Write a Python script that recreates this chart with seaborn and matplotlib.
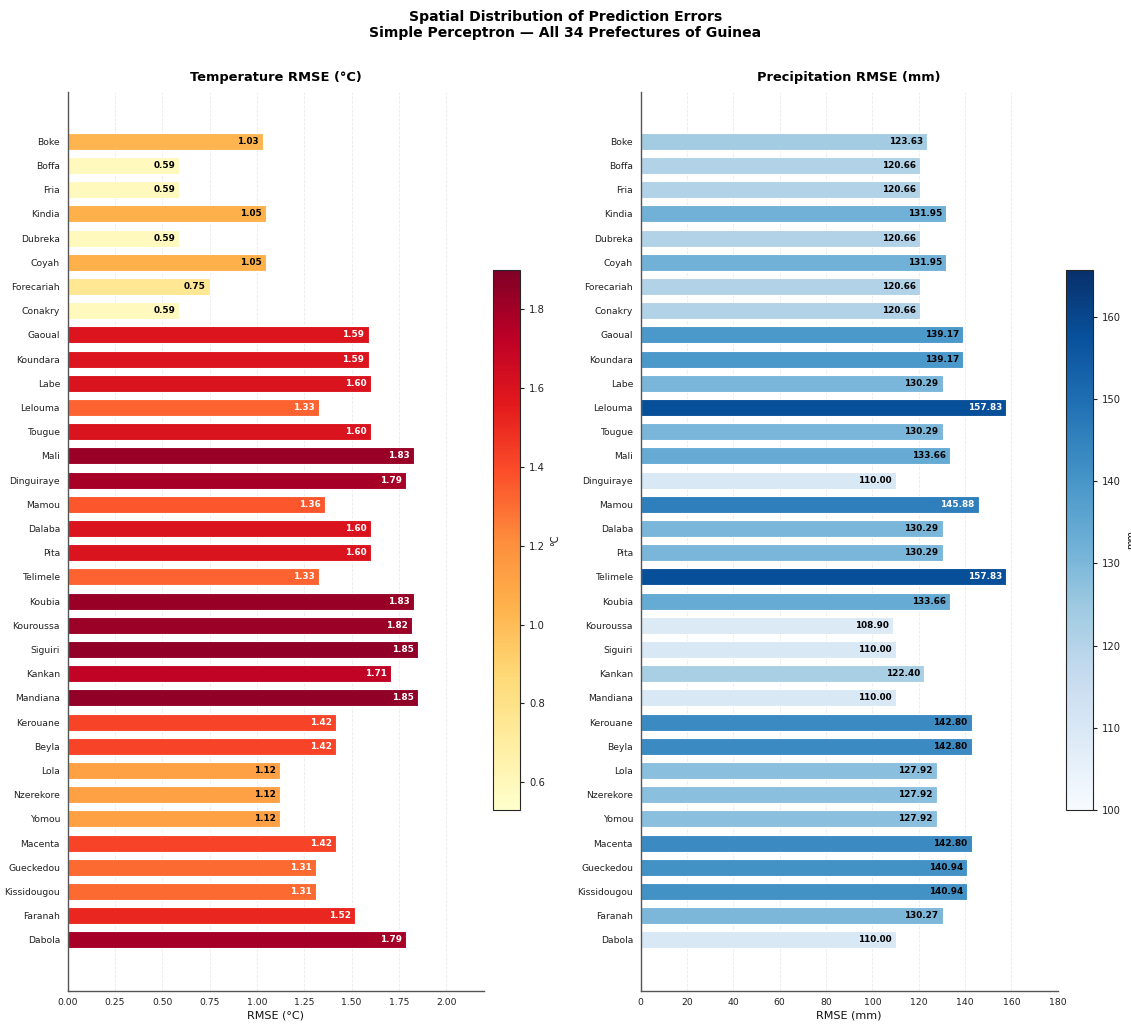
import numpy as np
import pandas as pd
import matplotlib
matplotlib.use("Agg")
import matplotlib.pyplot as plt
import matplotlib.colors as mcolors
import seaborn as sns

prefectures = ["Boke", "Boffa", "Fria", "Kindia", "Dubreka", "Coyah", "Forecariah",
               "Conakry", "Gaoual", "Koundara", "Labe", "Lelouma", "Tougue", "Mali",
               "Dinguiraye", "Mamou", "Dalaba", "Pita", "Telimele", "Koubia",
               "Kouroussa", "Siguiri", "Kankan", "Mandiana", "Kerouane", "Beyla",
               "Lola", "Nzerekore", "Yomou", "Macenta", "Gueckedou", "Kissidougou",
               "Faranah", "Dabola"]

temp_rmse = [1.03, 0.59, 0.59, 1.05, 0.59, 1.05, 0.75, 0.59, 1.59, 1.59, 1.60, 1.33,
             1.60, 1.83, 1.79, 1.36, 1.60, 1.60, 1.33, 1.83, 1.82, 1.85, 1.71, 1.85,
             1.42, 1.42, 1.12, 1.12, 1.12, 1.42, 1.31, 1.31, 1.52, 1.79]

precip_rmse = [123.63, 120.66, 120.66, 131.95, 120.66, 131.95, 120.66, 120.66, 139.17,
               139.17, 130.29, 157.83, 130.29, 133.66, 110.00, 145.88, 130.29, 130.29,
               157.83, 133.66, 108.90, 110.00, 122.40, 110.00, 142.80, 142.80, 127.92,
               127.92, 127.92, 142.80, 140.94, 140.94, 130.27, 110.00]

sns.set_style("white")
plt.rcParams["font.family"] = ["DejaVu Sans"]
plt.rcParams["text.color"] = "black"
plt.rcParams["axes.labelcolor"] = "#111111"

fig = plt.figure(figsize=(11.31, 10.25), dpi=100)

ax_t = fig.add_axes([0.0599, 0.0335, 0.3681, 0.877])
cax_t = fig.add_axes([0.4359, 0.2098, 0.0239, 0.527])
ax_p = fig.add_axes([0.5665, 0.0335, 0.3687, 0.877])
cax_p = fig.add_axes([0.9425, 0.2098, 0.0239, 0.527])

panels = [
    (ax_t, cax_t, temp_rmse, "YlOrRd", 0.53, 1.90, 2.2, "Temperature RMSE (°C)",
     "RMSE (°C)", "°C", 1.2, np.arange(0.6, 1.81, 0.2), np.arange(0, 2.01, 0.25)),
    (ax_p, cax_p, precip_rmse, "Blues", 100.0, 165.7, 180, "Precipitation RMSE (mm)",
     "RMSE (mm)", "mm", 145.0, np.arange(100, 161, 10), np.arange(0, 181, 20)),
]

for ax, cax, vals, cmap_name, vmin, vmax, xmax, title, xlabel, unit, thr, cticks, xticks in panels:
    cmap = plt.get_cmap(cmap_name)
    norm = mcolors.Normalize(vmin=vmin, vmax=vmax)
    colors = [cmap(norm(v)) for v in vals]
    df = pd.DataFrame({"prefecture": prefectures, "rmse": vals})
    sns.barplot(data=df, x="rmse", y="prefecture", hue="prefecture",
                palette=colors, legend=False, saturation=1, width=0.7,
                edgecolor="white", linewidth=0.8, ax=ax)
    for i, v in enumerate(vals):
        ax.annotate(f"{v:.2f}", xy=(v, i), xytext=(-3, 0), textcoords="offset points",
                    ha="right", va="center", fontsize=6.4, fontweight="bold",
                    color="white" if v > thr else "black")
    ax.set_xlim(0, xmax)
    ax.set_ylim(35.1, -2.05)
    ax.set_xticks(xticks)
    ax.set_xlabel(xlabel, fontsize=8, labelpad=2)
    ax.set_ylabel("")
    ax.set_title(title, fontsize=9.4, fontweight="bold", pad=8)
    ax.tick_params(axis="both", labelsize=6.7, colors="#222222", length=3, pad=2.5)
    ax.grid(axis="x", linestyle="--", color="#cccccc", alpha=0.4, linewidth=0.6)
    ax.set_axisbelow(True)
    sns.despine(ax=ax)
    for s in ("left", "bottom"):
        ax.spines[s].set_color("#555555")
        ax.spines[s].set_linewidth(1.0)

    sm = plt.cm.ScalarMappable(cmap=cmap, norm=norm)
    sm.set_array([])
    cb = fig.colorbar(sm, cax=cax)
    cb.set_ticks(cticks)
    cb.ax.tick_params(labelsize=7.2, colors="#222222", length=3)
    cb.set_label(unit, fontsize=7)
    cb.outline.set_linewidth(0.8)

fig.suptitle("Spatial Distribution of Prediction Errors\nSimple Perceptron — All 34 Prefectures of Guinea",
             fontsize=10.1, fontweight="bold", y=0.99, linespacing=1.15)

fig.savefig("out.png", dpi=100)
